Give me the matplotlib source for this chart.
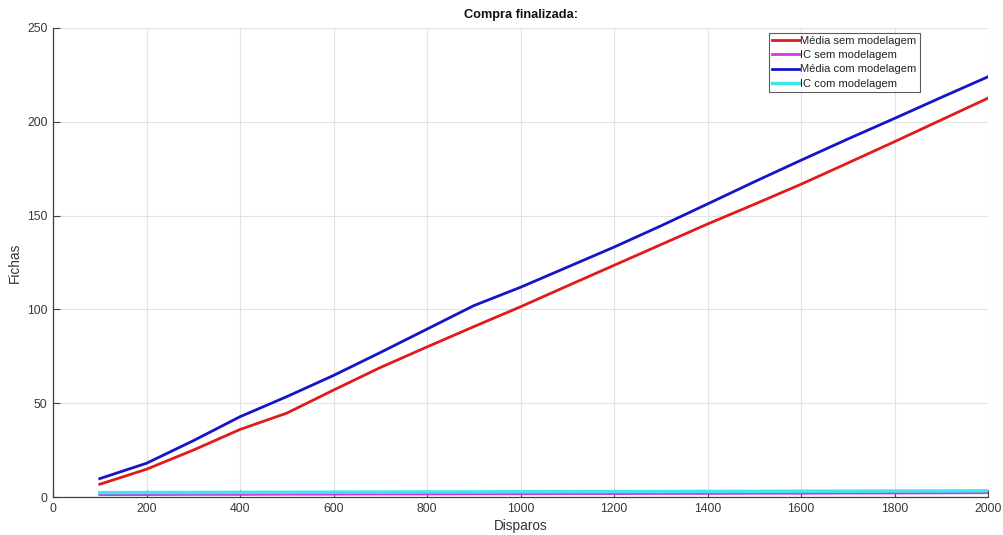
import matplotlib
matplotlib.use("Agg")
import matplotlib.pyplot as plt

plt.rcParams['font.family'] = ['Liberation Sans', 'DejaVu Sans']

# Number of shots simulated
disparos = [100, 200, 300, 400, 500, 600, 700, 800, 900, 1000,
            1100, 1200, 1300, 1400, 1500, 1600, 1700, 1800, 1900, 2000]

# Mean tokens without modelling
media_sem = [6.8, 14.8, 25.0, 36.0, 44.7, 57.0, 69.0, 80.0, 90.8, 101.4,
             112.5, 123.5, 134.5, 145.5, 156.0, 166.7, 178.0, 189.4, 201.0, 212.6]
# Confidence interval without modelling
ic_sem = [1.3, 1.3, 1.4, 1.4, 1.5, 1.5, 1.6, 1.6, 1.7, 1.7,
          1.8, 1.8, 1.9, 1.9, 2.0, 2.0, 2.1, 2.1, 2.2, 2.3]
# Mean tokens with modelling
media_com = [9.8, 18.0, 30.0, 42.8, 53.5, 64.8, 77.0, 89.5, 102.0, 111.8,
             122.5, 133.2, 144.5, 156.2, 168.0, 179.5, 190.8, 201.8, 213.0, 224.0]
# Confidence interval with modelling
ic_com = [2.3, 2.4, 2.4, 2.5, 2.5, 2.6, 2.6, 2.7, 2.7, 2.8,
          2.8, 2.9, 2.9, 3.0, 3.0, 3.1, 3.1, 3.2, 3.2, 3.3]

legendas = ['Média sem modelagem', 'IC sem modelagem',
            'Média com modelagem', 'IC com modelagem']

fig = plt.figure(figsize=(10.04, 5.35), dpi=100)
ax = fig.add_axes([0.0528, 0.071, 0.9313, 0.8767])

lw = 2.0
ax.plot(disparos, media_sem, color='#e01b1b', lw=lw, label=legendas[0], zorder=3)
ax.plot(disparos, ic_sem, color='#d535e0', lw=lw, label=legendas[1], zorder=3)
ax.plot(disparos, media_com, color='#1414c8', lw=lw, label=legendas[2], zorder=4)
ax.plot(disparos, ic_com, color='#3ee6ee', lw=lw + 0.5, label=legendas[3], zorder=4)

ax.set_xlim(0, 2000)
ax.set_ylim(0, 250)
ax.set_xticks(range(0, 2001, 200))
ax.set_yticks(range(0, 251, 50))

ax.grid(True, color='#e3e3e3', lw=0.8)
ax.set_axisbelow(True)

for side in ('top', 'right'):
    ax.spines[side].set_visible(False)
for side in ('left', 'bottom'):
    ax.spines[side].set_color('#404040')
    ax.spines[side].set_linewidth(0.9)

ax.tick_params(direction='in', length=5, width=0.8, color='#404040',
               labelsize=8.8, labelcolor='#383838', pad=4)

ax.set_xlabel('Disparos', fontsize=9.8, color='#333333', labelpad=3)
ax.set_ylabel('Fichas', fontsize=9.8, color='#333333', labelpad=4)
ax.set_title('Compra finalizada:', fontsize=9.2, fontweight='bold', color='#111111', pad=7)

leg = ax.legend(loc='upper right', bbox_to_anchor=(0.927, 0.99), fontsize=8.0,
                frameon=True, fancybox=False, handlelength=2.4, handletextpad=0.15,
                borderpad=0.3, labelspacing=0.38, borderaxespad=0)
leg.get_frame().set_edgecolor('#333333')
leg.get_frame().set_linewidth(0.8)
for t in leg.get_texts():
    t.set_color('#222222')

fig.savefig('out.png', dpi=100, facecolor='white')
